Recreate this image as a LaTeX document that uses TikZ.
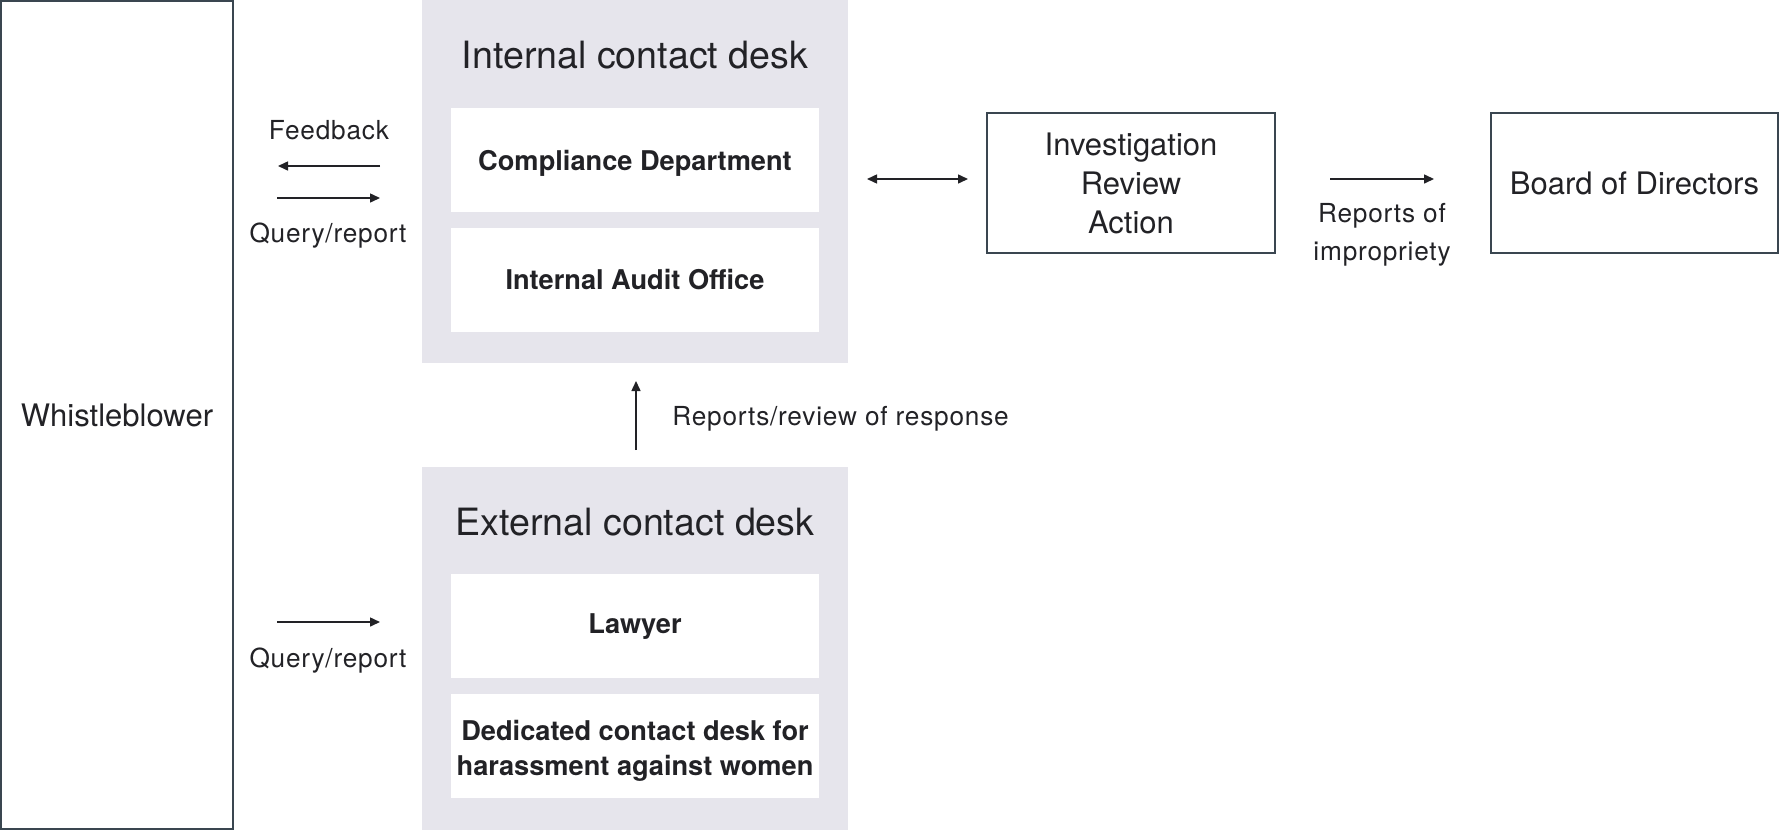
\documentclass[tikz,border=0pt]{standalone}
\usepackage{fontspec}
\setmainfont{TeX Gyre Heros}
\usetikzlibrary{arrows.meta}
\definecolor{deskgray}{RGB}{230,229,236}
\definecolor{edge}{RGB}{58,70,80}
\definecolor{ink}{RGB}{34,34,38}
\begin{document}
\begin{tikzpicture}[x=0.5pt,y=-0.5pt,
  every node/.style={text=ink, inner sep=0pt},
  outline/.style={draw=edge, line width=1pt, fill=white},
  desk/.style={fill=deskgray},
  unit/.style={fill=white, minimum width=184pt, minimum height=52pt},
  unittext/.style={font=\fontsize{13.6}{17.5}\selectfont\bfseries, align=center},
  title/.style={font=\fontsize{18.8}{22}\selectfont},
  lbl/.style={font=\addfontfeature{LetterSpace=3}\fontsize{13.1}{19}\selectfont, align=center},
  big/.style={font=\fontsize{15.5}{19.5}\selectfont, align=center},
  arr/.style={draw=ink, line width=0.75pt, -{Triangle[length=5pt,width=4.5pt]}},
  darr/.style={draw=ink, line width=0.75pt, {Triangle[length=5pt,width=4.5pt]}-{Triangle[length=5pt,width=4.5pt]}}
]
\useasboundingbox (0,0) rectangle (1780,830);

% Whistleblower
\node[outline, minimum width=116pt, minimum height=414pt, big] (wb) at (117,415) {Whistleblower};

% Internal desk
\node[desk, minimum width=213pt, minimum height=181.5pt] (int) at (635,181.5) {};
\node[title] (intt) at (635,55) {Internal contact desk};
\node[unit] (comp) at (635,160) {};
\node[unittext] (compt) at (635,163) {Compliance Department};
\node[unit] (audit) at (635,280) {};
\node[unittext] (auditt) at (635,280) {Internal Audit Office};

% External desk
\node[desk, minimum width=213pt, minimum height=181.5pt] (ext) at (635,648.5) {};
\node[title] (extt) at (635,522) {External contact desk};
\node[unit] (law) at (635,626) {};
\node[unittext] (lawt) at (635,627) {Lawyer};
\node[unit] (ded) at (635,746) {};
\node[unittext] (dedt) at (635,751) {Dedicated contact desk for\\harassment against women};

% Investigation and Board
\node[outline, minimum width=144pt, minimum height=70pt, big] (inv) at (1131,183) {Investigation\\Review\\Action};
\node[outline, minimum width=143.5pt, minimum height=70pt, big] (bod) at (1634.5,183) {Board of Directors};

% connector end points
\coordinate (fbA) at (380,166); \coordinate (fbB) at (278,166);
\coordinate (qrA) at (277,198); \coordinate (qrB) at (380,198);
\coordinate (qeA) at (277,622); \coordinate (qeB) at (380,622);
\coordinate (upA) at (636,450); \coordinate (upB) at (636,381);
\coordinate (diA) at (867,179); \coordinate (diB) at (968,179);
\coordinate (rpA) at (1330,179); \coordinate (rpB) at (1434,179);

\draw[arr] (fbA) -- (fbB);
\draw[arr] (qrA) -- (qrB);
\draw[arr] (qeA) -- (qeB);
\draw[arr] (upA) -- (upB);
\draw[darr] (diA) -- (diB);
\draw[arr] (rpA) -- (rpB);

\node[lbl] (lfb) at (329,130) {Feedback};
\node[lbl] (lqr) at (328,236) {Query/report};
\node[lbl] (lqe) at (328,661) {Query/report};
\node[lbl, anchor=west] (lup) at (672,419) {Reports/review of response};
\node[lbl] (lrp) at (1382,235) {Reports of\\impropriety};
\end{tikzpicture}
\end{document}
